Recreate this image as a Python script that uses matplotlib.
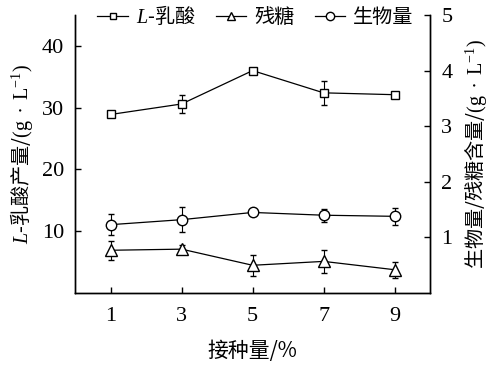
import matplotlib
matplotlib.use("Agg")
import matplotlib.pyplot as plt

plt.rcParams['mathtext.fontset'] = 'custom'
plt.rcParams['mathtext.rm'] = 'Liberation Serif'
plt.rcParams['mathtext.it'] = 'Liberation Serif:italic'
plt.rcParams['font.family'] = ['Liberation Serif', 'Noto Sans CJK SC']

inoculum = [1, 3, 5, 7, 9]
lactic = [28.9, 30.6, 36.0, 32.4, 32.1]
lactic_err = [0.3, 1.4, 0.3, 1.9, 0.3]
sugar = [0.77, 0.79, 0.50, 0.57, 0.42]
sugar_err = [0.17, 0.07, 0.19, 0.20, 0.14]
biomass = [1.23, 1.32, 1.45, 1.40, 1.38]
biomass_err = [0.19, 0.23, 0.05, 0.12, 0.15]
xticks = [1, 3, 5, 7, 9]
left_ticks = [10, 20, 30, 40]
right_ticks = [1, 2, 3, 4, 5]

fig = plt.figure(figsize=(4.91, 3.65), dpi=100)
ax = fig.add_axes([0.153, 0.197, 0.723, 0.762])
ax2 = ax.twinx()

cjk = 'Noto Sans CJK SC'
lw = 0.9
common = dict(color='black', lw=lw, capsize=2, elinewidth=0.8, capthick=0.8,
              markerfacecolor='white', markeredgecolor='black', markeredgewidth=1.0)

h1 = ax.errorbar(inoculum, lactic, yerr=lactic_err, marker='s', ms=6, **common)
h2 = ax2.errorbar(inoculum, sugar, yerr=sugar_err, marker='^', ms=8, **common)
h3 = ax2.errorbar(inoculum, biomass, yerr=biomass_err, marker='o', ms=7.5, **common)

ax.set_xlim(0, 10)
ax.set_ylim(0, 45)
ax2.set_ylim(0, 5)
ax.set_xticks(xticks)
ax.set_yticks(left_ticks)
ax2.set_yticks(right_ticks)

for a in (ax, ax2):
    a.spines['top'].set_visible(False)
    for s in a.spines.values():
        s.set_linewidth(1.0)
    a.tick_params(direction='in', length=4, width=1.0, labelsize=16, pad=8)
ax.tick_params(axis='x', pad=10)

unit = r'$\mathrm{(g\ \bullet\ L^{-1})}$'
ax.set_xlabel('接种量/%', fontsize=15, family=[cjk], labelpad=10)
ax.set_ylabel(r'$\mathit{L}$-乳酸产量/' + unit, fontsize=14.5, family=[cjk], labelpad=5)
ax2.set_ylabel('生物量/残糖含量/' + unit, fontsize=14.5, family=[cjk], labelpad=8)

from matplotlib.lines import Line2D
def hd(m, ms):
    return Line2D([], [], color='black', lw=lw, marker=m, ms=ms,
                  markerfacecolor='white', markeredgecolor='black', markeredgewidth=1.0)
leg = fig.legend([hd('s', 5), hd('^', 6), hd('o', 6)],
                 [r'$\mathit{L}$-乳酸', '残糖', '生物量'],
                 loc='center', bbox_to_anchor=(0.52, 0.955), ncol=3, frameon=False,
                 prop={'family': cjk, 'size': 14.5}, handlelength=1.5, handletextpad=0.4,
                 columnspacing=1.0)

fig.savefig('out.png', dpi=100)
